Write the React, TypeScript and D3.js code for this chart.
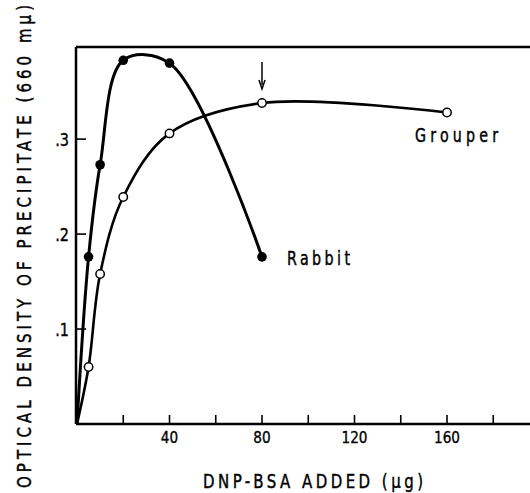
import React from "react";
import * as d3 from "d3";

const rabbitX = [0, 5, 10, 20, 40, 80];
const rabbitY = [0, 0.176, 0.273, 0.383, 0.380, 0.176];
const grouperX = [0, 5, 10, 20, 40, 80, 160];
const grouperY = [0, 0.06, 0.158, 0.239, 0.306, 0.338, 0.328];
const xTickLabels = [40, 80, 120, 160];
const xMinorTicks = [20, 40, 60, 80, 100, 120, 140, 160, 180];
const yTicks = [0.1, 0.2, 0.3];

const W = 530;
const H = 493;
const FONT = "'DejaVu Sans', sans-serif";

function NarrowText(props: {
  x: number;
  y: number;
  width: number;
  size: number;
  sx: number;
  rotate?: number;
  anchor?: string;
  children: React.ReactNode;
}) {
  const { x, y, width, size, sx, rotate, anchor, children } = props;
  const tr = `translate(${x},${y})${rotate ? ` rotate(${rotate})` : ""} scale(${sx},1)`;
  return (
    <text
      transform={tr}
      fontSize={size}
      textLength={width / sx}
      lengthAdjust="spacing"
      textAnchor={anchor || "start"}
      fill="#000"
      stroke="#000"
      strokeWidth={0.45}
    >
      {children}
    </text>
  );
}

export default function App() {
  const x = d3.scaleLinear().domain([0, 200]).range([77, 539.5]);
  const y = d3.scaleLinear().domain([0, 0.397]).range([424, 47]);
  const line = d3
    .line<[number, number]>()
    .x((d) => x(d[0]))
    .y((d) => y(d[1]))
    .curve(d3.curveCatmullRom.alpha(0.5));
  const rabbit: [number, number][] = rabbitX.map((v, i) => [v, rabbitY[i]]);
  const grouper: [number, number][] = grouperX.map((v, i) => [v, grouperY[i]]);
  const x0 = x(0) - 1;
  const yTop = y(0.397);
  const yBot = y(0);

  return (
    <svg
      width={W}
      height={H}
      style={{ position: "absolute", left: 0, top: 0, background: "#fff" }}
      fontFamily={FONT}
    >
      <rect width={W} height={H} fill="#fff" />
      {/* frame */}
      <line x1={x0} x2={W} y1={yTop} y2={yTop} stroke="#000" strokeWidth={2.5} />
      <line x1={x0} x2={x0} y1={yTop} y2={yBot} stroke="#000" strokeWidth={2.5} />
      <line x1={x0} x2={W} y1={yBot} y2={yBot} stroke="#000" strokeWidth={2.5} />
      {xMinorTicks.map((t) => (
        <line key={t} x1={x(t)} x2={x(t)} y1={yBot} y2={yBot - 9} stroke="#000" strokeWidth={1.6} />
      ))}
      {xTickLabels.map((t) => (
        <text
          key={t}
          transform={`translate(${x(t)},443) scale(0.85,1)`}
          textAnchor="middle"
          fontSize={16}
          fill="#000"
          stroke="#000"
          strokeWidth={0.35}
        >
          {t}
        </text>
      ))}
      {yTicks.map((t) => (
        <g key={t}>
          <line x1={x0} x2={x0 + 10} y1={y(t)} y2={y(t)} stroke="#000" strokeWidth={1.6} />
          <text
            transform={`translate(69,${y(t) + 7}) scale(0.85,1)`}
            textAnchor="end"
            fontSize={17}
            fill="#000"
            stroke="#000"
            strokeWidth={0.35}
          >
            {"." + Math.round(t * 10)}
          </text>
        </g>
      ))}
      {/* curves */}
      <path d={line(rabbit) || ""} fill="none" stroke="#000" strokeWidth={3} />
      <path d={line(grouper) || ""} fill="none" stroke="#000" strokeWidth={2.6} />
      {rabbit.slice(1).map((d, i) => (
        <circle key={"r" + i} cx={x(d[0])} cy={y(d[1])} r={4.8} fill="#000" />
      ))}
      {grouper.slice(1).map((d, i) => (
        <circle key={"g" + i} cx={x(d[0])} cy={y(d[1])} r={4.2} fill="#fff" stroke="#000" strokeWidth={1.5} />
      ))}
      {/* arrow */}
      <line x1={x(80)} x2={x(80)} y1={62} y2={85} stroke="#000" strokeWidth={1.5} />
      <path d={`M${x(80) - 3},${80} L${x(80)},${89} L${x(80) + 3},${80}`} fill="none" stroke="#000" strokeWidth={1.5} />
      {/* series labels */}
      <NarrowText x={287} y={265} width={63} size={19} sx={0.75}>
        Rabbit
      </NarrowText>
      <NarrowText x={415} y={142} width={83} size={19} sx={0.75}>
        Grouper
      </NarrowText>
      {/* axis titles */}
      <NarrowText x={203} y={488} width={220} size={20} sx={0.75}>
        DNP-BSA ADDED (μg)
      </NarrowText>
      <NarrowText x={31} y={488} width={483} size={20} sx={0.75} rotate={-90}>
        OPTICAL DENSITY OF PRECIPITATE (660 mμ)
      </NarrowText>
    </svg>
  );
}
